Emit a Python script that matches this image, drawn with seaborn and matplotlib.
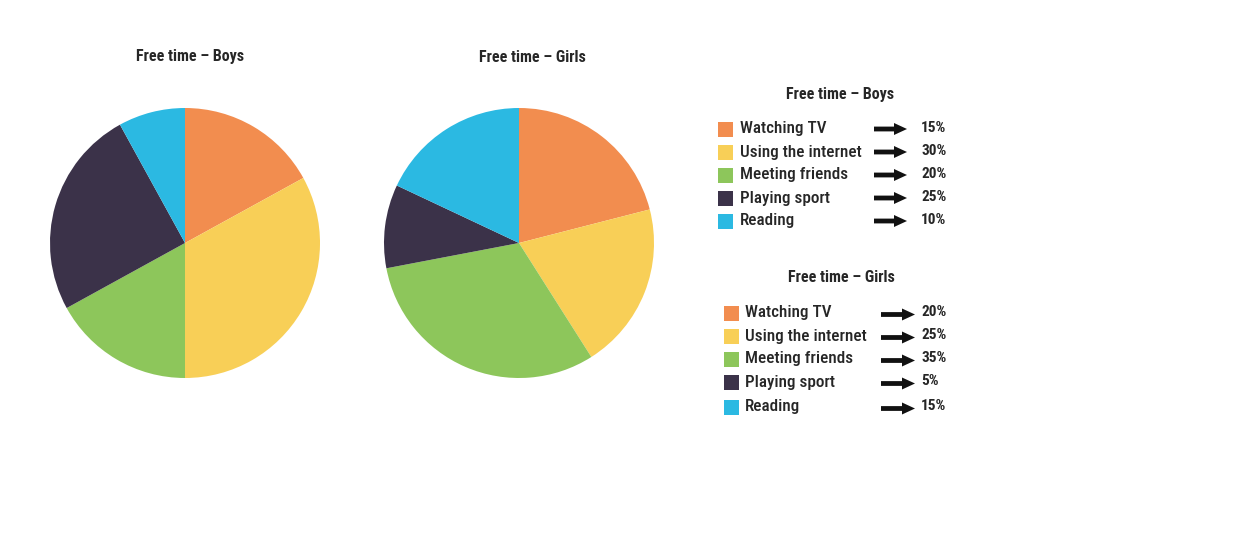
import numpy as np
import matplotlib
matplotlib.use("Agg")
import matplotlib.pyplot as plt
from matplotlib import font_manager
from matplotlib.patches import Rectangle
import seaborn as sns

# data
activities = ["Watching TV", "Using the internet", "Meeting friends", "Playing sport", "Reading"]
boys_pie = [17, 33, 17, 25, 8]      # slice sizes as drawn
girls_pie = [21, 20, 31, 10, 18]
boys_text = ["15%", "30%", "20%", "25%", "10%"]   # as printed in the key
girls_text = ["20%", "25%", "35%", "5%", "15%"]
colors = ["#F28D4F", "#F8CF57", "#8DC65B", "#3B3249", "#2BB9E2"]

sns.set_theme(style="white")
names = {f.name for f in font_manager.fontManager.ttflist}
fam = "DejaVu Sans"
for cand in ["Liberation Sans Narrow", "Roboto Condensed", "Roboto", "Liberation Sans"]:
    if cand in names:
        fam = cand
        break
plt.rcParams["font.family"] = [fam, "DejaVu Sans"]

W, H = 1244, 558
fig = plt.figure(figsize=(W / 100, H / 100), dpi=100)
fig.patch.set_facecolor("white")


def pie_axes(cx, cy, r):
    return fig.add_axes([(cx - r) / W, (H - cy - r) / H, 2 * r / W, 2 * r / H])


for (cx, cy), vals in [((185, 243), boys_pie), ((519, 243), girls_pie)]:
    pax = pie_axes(cx, cy, 135)
    pax.pie(vals, colors=colors, startangle=90, counterclock=False,
            wedgeprops={"linewidth": 0})
    pax.set_xlim(-1, 1)
    pax.set_ylim(-1, 1)
    pax.set_aspect("equal")
    pax.axis("off")

# overlay in pixel coordinates for titles and keys
ax = fig.add_axes([0, 0, 1, 1])
ax.set_xlim(0, W)
ax.set_ylim(H, 0)
ax.axis("off")
ax.patch.set_alpha(0)

tk = dict(ha="center", va="center", fontsize=11.5, fontweight="bold", color="#262626")
ax.text(190, 56, "Free time – Boys", **tk)
ax.text(532, 58, "Free time – Girls", **tk)


def draw_key(title, tx, ty, sq_x, lab_x, arr_x, arr_len, pct_x, rows_y, arr_dy, texts):
    ax.text(tx, ty, title, **tk)
    for lab, col, y, pct in zip(activities, colors, rows_y, texts):
        ax.add_patch(Rectangle((sq_x, y - 7.5), 15, 15, color=col, lw=0))
        ax.text(lab_x, y, lab, ha="left", va="center", fontsize=12.3,
                fontweight="medium", color="#262626")
        ax.arrow(arr_x, y + arr_dy, arr_len, 0, width=4.8, head_width=12,
                 head_length=13, length_includes_head=True, color="#111111", lw=0)
        ax.text(pct_x, y - 1, pct, ha="left", va="center", fontsize=11,
                fontweight="bold", color="#262626")


draw_key("Free time – Boys", 840, 95, 718, 740, 874, 33, 921,
         [129, 152, 175, 198, 221], 0, boys_text)
draw_key("Free time – Girls", 841, 278, 724, 745, 881, 34, 921,
         [313, 336, 359, 382, 407], 1.5, girls_text)

fig.savefig("out.png", dpi=100, facecolor="white")
